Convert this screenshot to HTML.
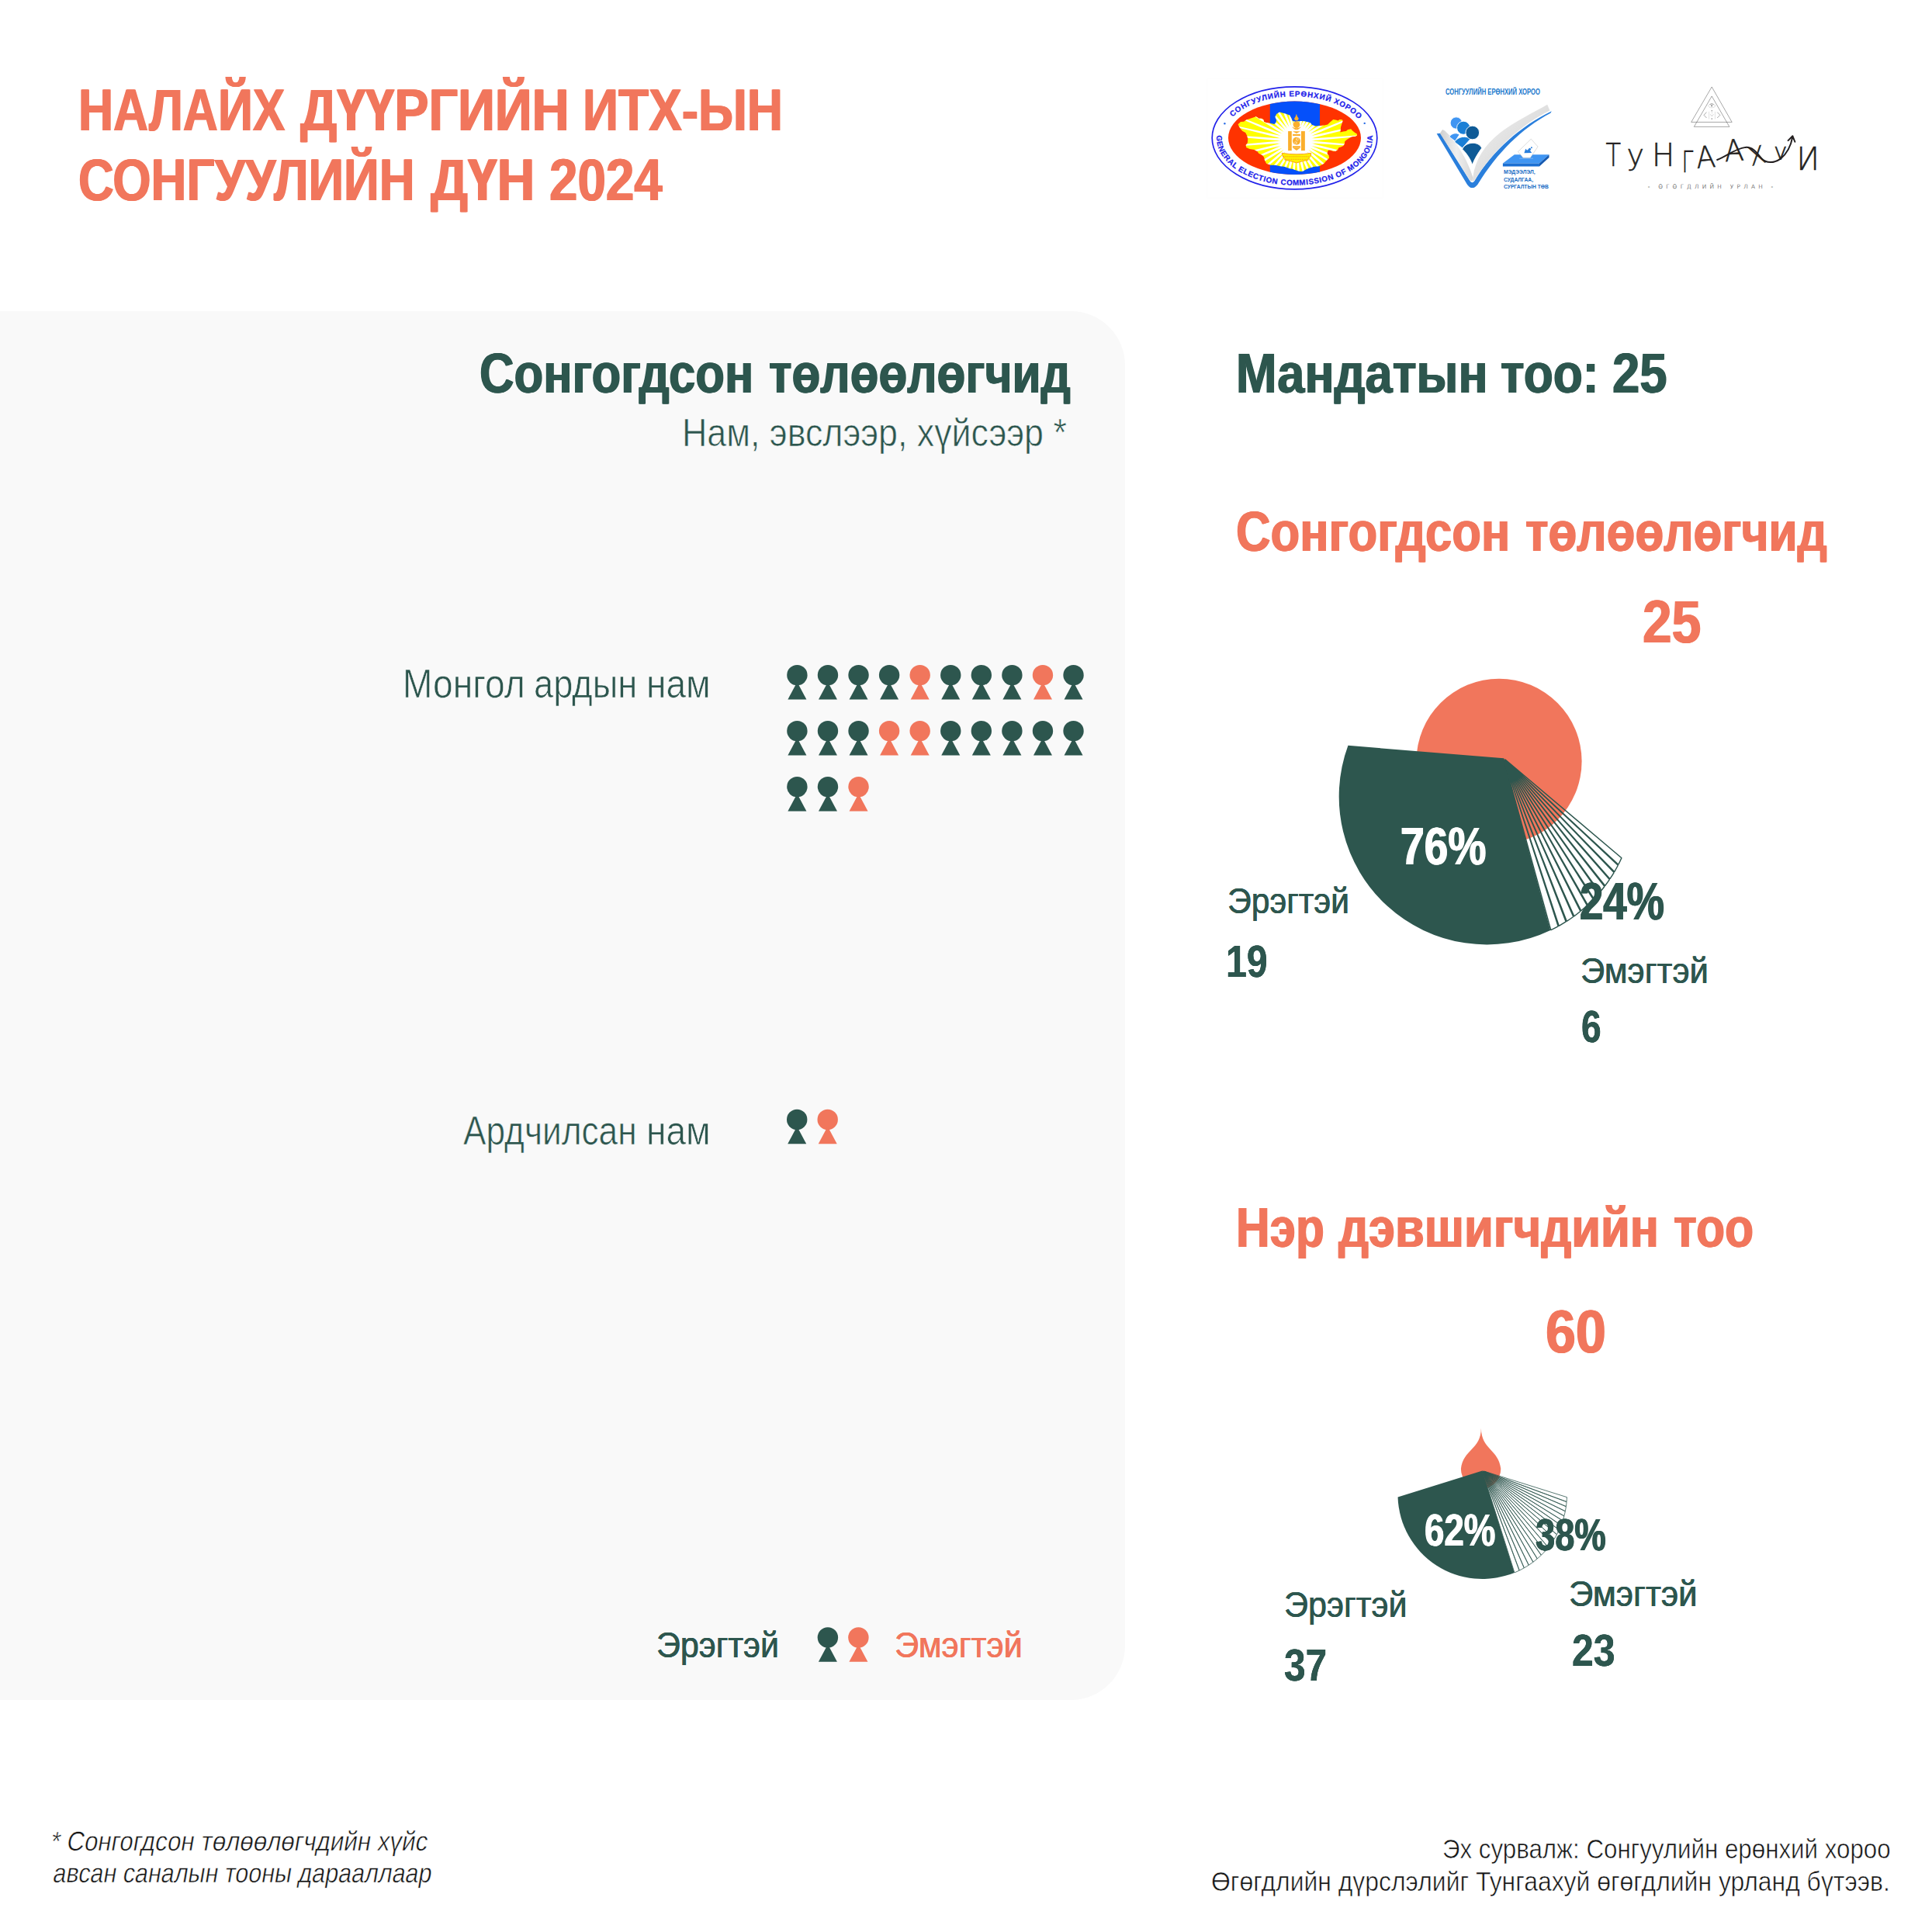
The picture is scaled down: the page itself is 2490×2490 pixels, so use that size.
<!DOCTYPE html>
<html lang="mn">
<head>
<meta charset="utf-8">
<title>Налайх дүүргийн ИТХ-ын сонгуулийн дүн 2024</title>
<style>
html,body{margin:0;padding:0;background:#fff;}
body{width:2490px;height:2490px;position:relative;overflow:hidden;font-family:"Liberation Sans",sans-serif;}
.panel{position:absolute;left:-80px;top:401px;width:1530px;height:1790px;background:#f9f9f9;border-radius:70px;}
.t{position:absolute;white-space:nowrap;line-height:1;transform-origin:0 0;font-weight:400;font-kerning:normal;}
.t.b{font-weight:700;}
.t.i{font-style:italic;}
svg{position:absolute;left:0;top:0;overflow:visible;}
</style>
</head>
<body>
<div class="panel"></div>
<svg class="icons" width="2490" height="2490" viewBox="0 0 2490 2490">
<g fill="#2d564e"><circle cx="1027.40" cy="870.10" r="13.2"/><path d="M1027.40 878.90L1039.40 901.50H1015.40Z"/></g>
<g fill="#2d564e"><circle cx="1066.97" cy="870.10" r="13.2"/><path d="M1066.97 878.90L1078.97 901.50H1054.97Z"/></g>
<g fill="#2d564e"><circle cx="1106.54" cy="870.10" r="13.2"/><path d="M1106.54 878.90L1118.54 901.50H1094.54Z"/></g>
<g fill="#2d564e"><circle cx="1146.11" cy="870.10" r="13.2"/><path d="M1146.11 878.90L1158.11 901.50H1134.11Z"/></g>
<g fill="#f1765c"><circle cx="1185.68" cy="870.10" r="13.2"/><path d="M1185.68 878.90L1197.68 901.50H1173.68Z"/></g>
<g fill="#2d564e"><circle cx="1225.25" cy="870.10" r="13.2"/><path d="M1225.25 878.90L1237.25 901.50H1213.25Z"/></g>
<g fill="#2d564e"><circle cx="1264.82" cy="870.10" r="13.2"/><path d="M1264.82 878.90L1276.82 901.50H1252.82Z"/></g>
<g fill="#2d564e"><circle cx="1304.39" cy="870.10" r="13.2"/><path d="M1304.39 878.90L1316.39 901.50H1292.39Z"/></g>
<g fill="#f1765c"><circle cx="1343.96" cy="870.10" r="13.2"/><path d="M1343.96 878.90L1355.96 901.50H1331.96Z"/></g>
<g fill="#2d564e"><circle cx="1383.53" cy="870.10" r="13.2"/><path d="M1383.53 878.90L1395.53 901.50H1371.53Z"/></g>
<g fill="#2d564e"><circle cx="1027.40" cy="942.10" r="13.2"/><path d="M1027.40 950.90L1039.40 973.50H1015.40Z"/></g>
<g fill="#2d564e"><circle cx="1066.97" cy="942.10" r="13.2"/><path d="M1066.97 950.90L1078.97 973.50H1054.97Z"/></g>
<g fill="#2d564e"><circle cx="1106.54" cy="942.10" r="13.2"/><path d="M1106.54 950.90L1118.54 973.50H1094.54Z"/></g>
<g fill="#f1765c"><circle cx="1146.11" cy="942.10" r="13.2"/><path d="M1146.11 950.90L1158.11 973.50H1134.11Z"/></g>
<g fill="#f1765c"><circle cx="1185.68" cy="942.10" r="13.2"/><path d="M1185.68 950.90L1197.68 973.50H1173.68Z"/></g>
<g fill="#2d564e"><circle cx="1225.25" cy="942.10" r="13.2"/><path d="M1225.25 950.90L1237.25 973.50H1213.25Z"/></g>
<g fill="#2d564e"><circle cx="1264.82" cy="942.10" r="13.2"/><path d="M1264.82 950.90L1276.82 973.50H1252.82Z"/></g>
<g fill="#2d564e"><circle cx="1304.39" cy="942.10" r="13.2"/><path d="M1304.39 950.90L1316.39 973.50H1292.39Z"/></g>
<g fill="#2d564e"><circle cx="1343.96" cy="942.10" r="13.2"/><path d="M1343.96 950.90L1355.96 973.50H1331.96Z"/></g>
<g fill="#2d564e"><circle cx="1383.53" cy="942.10" r="13.2"/><path d="M1383.53 950.90L1395.53 973.50H1371.53Z"/></g>
<g fill="#2d564e"><circle cx="1027.40" cy="1014.10" r="13.2"/><path d="M1027.40 1022.90L1039.40 1045.50H1015.40Z"/></g>
<g fill="#2d564e"><circle cx="1066.97" cy="1014.10" r="13.2"/><path d="M1066.97 1022.90L1078.97 1045.50H1054.97Z"/></g>
<g fill="#f1765c"><circle cx="1106.54" cy="1014.10" r="13.2"/><path d="M1106.54 1022.90L1118.54 1045.50H1094.54Z"/></g>
<g fill="#2d564e"><circle cx="1027.20" cy="1442.90" r="13.2"/><path d="M1027.20 1451.70L1039.20 1474.30H1015.20Z"/></g>
<g fill="#f1765c"><circle cx="1066.70" cy="1442.90" r="13.2"/><path d="M1066.70 1451.70L1078.70 1474.30H1054.70Z"/></g>
<g fill="#2d564e"><circle cx="1066.90" cy="2110.40" r="13.2"/><path d="M1066.90 2119.20L1078.90 2141.80H1054.90Z"/></g>
<g fill="#f1765c"><circle cx="1106.40" cy="2110.40" r="13.2"/><path d="M1106.40 2119.20L1118.40 2141.80H1094.40Z"/></g>
</svg>
<svg class="charts" width="2490" height="2490" viewBox="0 0 2490 2490">
<circle cx="1932" cy="981.3" r="106.6" fill="#f1765c"/>
<path d="M1937.90 977.20L1737.44 960.82A190.70 190.70 0 0 0 1998.23 1198.95Z" fill="#2d564e"/>
<path d="M1937.90 977.20L1938.95 981.06L1940.96 979.78Z" fill="#2d564e"/>
<path d="M1938.56 979.61L1998.78 1198.69A190.70 190.70 0 0 0 2008.14 1193.88L1938.67 979.58M1938.68 979.57L2009.20 1193.30A190.70 190.70 0 0 0 2018.18 1187.97L1938.79 979.54M1938.80 979.53L2019.20 1187.32A190.70 190.70 0 0 0 2027.77 1181.50L1938.91 979.49M1938.92 979.48L2028.74 1180.80A190.70 190.70 0 0 0 2036.87 1174.53L1939.02 979.43M1939.03 979.43L2037.78 1173.78A190.70 190.70 0 0 0 2045.46 1167.09L1939.13 979.38M1939.14 979.37L2046.32 1166.30A190.70 190.70 0 0 0 2053.51 1159.24L1939.24 979.31M1939.25 979.30L2054.32 1158.40A190.70 190.70 0 0 0 2061.01 1151.01L1939.35 979.24M1939.36 979.23L2061.76 1150.14A190.70 190.70 0 0 0 2067.95 1142.45L1939.45 979.16M1939.46 979.16L2068.64 1141.55A190.70 190.70 0 0 0 2074.32 1133.61L1939.54 979.08M1939.55 979.08L2074.94 1132.67A190.70 190.70 0 0 0 2080.10 1124.52L1939.64 979.00M1939.65 978.99L2080.67 1123.57A190.70 190.70 0 0 0 2085.30 1115.24L1939.72 978.91M1939.73 978.90L2085.81 1114.27A190.70 190.70 0 0 0 2089.92 1105.80L1939.81 978.81" fill="none" stroke="#2d564e" stroke-width="1.45" stroke-linejoin="bevel"/>
<path d="M1908.9 1840.7C1909 1868 1931.5 1868 1934.3 1893A25.7 25.7 0 0 1 1882.9 1893C1885.7 1868 1908.8 1868 1908.9 1840.7Z" fill="#f1765c"/>
<path d="M1910.50 1895.40L1801.56 1929.50A109.00 109.00 0 0 0 1951.78 2026.88Z" fill="#2d564e"/>
<path d="M1910.50 1895.40L1911.70 1899.22L1914.32 1896.59Z" fill="#2d564e"/>
<path d="M1911.25 1897.78L1951.91 2026.83A109.00 109.00 0 0 0 1958.04 2024.09L1911.37 1897.75M1911.37 1897.74L1958.30 2023.96A109.00 109.00 0 0 0 1964.21 2020.85L1911.48 1897.70M1911.49 1897.70L1964.46 2020.71A109.00 109.00 0 0 0 1970.14 2017.23L1911.60 1897.65M1911.60 1897.64L1970.38 2017.08A109.00 109.00 0 0 0 1975.80 2013.27L1911.71 1897.59M1911.72 1897.58L1976.03 2013.10A109.00 109.00 0 0 0 1981.18 2008.98L1911.82 1897.52M1911.83 1897.52L1981.39 2008.80A109.00 109.00 0 0 0 1986.24 2004.39L1911.93 1897.45M1911.93 1897.45L1986.44 2004.19A109.00 109.00 0 0 0 1990.98 1999.52L1912.03 1897.38M1912.03 1897.37L1991.16 1999.31A109.00 109.00 0 0 0 1995.37 1994.40L1912.13 1897.30M1912.13 1897.29L1995.54 1994.18A109.00 109.00 0 0 0 1999.41 1989.05L1912.22 1897.21M1912.23 1897.21L1999.57 1988.83A109.00 109.00 0 0 0 2003.09 1983.52L1912.31 1897.12M1912.31 1897.12L2003.23 1983.29A109.00 109.00 0 0 0 2006.39 1977.82L1912.40 1897.03M1912.40 1897.03L2006.52 1977.58A109.00 109.00 0 0 0 2009.33 1971.98L1912.48 1896.93M1912.48 1896.93L2009.44 1971.74A109.00 109.00 0 0 0 2011.88 1966.04L1912.55 1896.83M1912.55 1896.82L2011.98 1965.79A109.00 109.00 0 0 0 2014.06 1960.02L1912.62 1896.72M1912.62 1896.72L2014.14 1959.77A109.00 109.00 0 0 0 2015.86 1953.94L1912.69 1896.61M1912.69 1896.61L2015.92 1953.69A109.00 109.00 0 0 0 2017.29 1947.84L1912.74 1896.50M1912.75 1896.50L2017.34 1947.59A109.00 109.00 0 0 0 2018.36 1941.74L1912.80 1896.39M1912.80 1896.38L2018.39 1941.49A109.00 109.00 0 0 0 2019.07 1935.66L1912.84 1896.27M1912.85 1896.26L2019.09 1935.41A109.00 109.00 0 0 0 2019.44 1929.62L1912.89 1896.15" fill="none" stroke="#2d564e" stroke-width="0.8" stroke-linejoin="bevel"/>
</svg>
<svg class="logo1" width="2490" height="2490" viewBox="0 0 2490 2490" font-family="Liberation Sans, sans-serif">
<defs>
<clipPath id="l1e"><ellipse cx="1668.5" cy="177.8" rx="85.5" ry="47.2"/></clipPath>
<clipPath id="l1m"><polygon points="1595.6,160.3 1599.0,156.9 1603.1,156.7 1606.2,154.6 1611.4,152.8 1614.5,151.7 1618.7,150.2 1621.2,151.7 1622.3,152.8 1626.4,152.8 1628.5,154.3 1629.0,156.9 1632.1,158.2 1636.8,158.7 1642.5,160.0 1644.5,158.0 1645.1,154.8 1643.5,150.7 1645.1,147.1 1649.2,144.5 1652.8,145.5 1658.0,147.1 1662.1,148.6 1664.2,152.3 1665.8,155.9 1669.7,156.9 1676.9,155.9 1682.1,156.4 1688.8,158.2 1690.9,161.1 1695.1,162.6 1700.7,162.3 1706.9,161.6 1711.1,160.5 1714.2,157.4 1718.3,154.1 1722.4,154.8 1724.5,155.4 1726.6,154.1 1729.9,154.3 1730.5,155.9 1729.2,160.0 1728.1,163.6 1727.4,170.4 1731.2,169.6 1734.9,169.1 1736.9,167.3 1741.1,166.2 1743.1,168.6 1746.3,170.9 1748.8,172.4 1749.1,174.5 1746.8,175.8 1742.1,176.3 1739.0,178.1 1735.9,179.9 1733.3,182.3 1732.8,185.4 1731.2,188.0 1728.1,189.5 1725.5,190.3 1724.0,192.9 1721.4,194.7 1718.3,195.0 1715.2,193.7 1712.1,193.4 1711.1,195.2 1710.5,198.3 1712.6,200.4 1713.1,203.5 1710.5,206.1 1708.0,208.7 1706.4,210.7 1702.8,212.8 1700.7,213.9 1692.5,214.9 1684.7,217.5 1679.5,220.6 1676.9,221.1 1671.8,220.1 1666.6,218.0 1661.4,217.0 1656.2,214.9 1649.0,214.1 1643.3,212.8 1637.1,212.8 1636.3,212.3 1632.1,210.7 1630.0,206.6 1629.0,202.5 1626.9,199.9 1622.3,197.8 1620.7,195.2 1616.6,193.1 1610.4,192.1 1606.2,190.0 1605.7,186.9 1607.8,184.3 1608.3,179.2 1607.3,175.0 1605.2,170.9 1601.1,168.8 1599.0,166.2 1596.9,163.1"/></clipPath>
<radialGradient id="l1g"><stop offset="0" stop-color="#fff"/><stop offset="0.8" stop-color="#fff"/><stop offset="1" stop-color="#fff" stop-opacity="0"/></radialGradient>
<path id="l1t" d="M1581.58 159.47A92.5 53.6 0 0 1 1755.42 159.47"/>
<path id="l1b" d="M1571.42 162.01A100.5 61.0 0 1 0 1765.58 162.01"/>
</defs>
<rect x="1555.5" y="101.5" width="227" height="153.5" fill="#fff" stroke="#fdfdfd" stroke-width="1"/>
<ellipse cx="1668.5" cy="177.8" rx="106.3" ry="66" fill="#fff" stroke="#2222ea" stroke-width="1.7"/>
<g clip-path="url(#l1e)"><rect x="1580" y="128" width="180" height="100" fill="#ff3300"/><rect x="1636.8" y="128" width="64.2" height="100" fill="#0550fa"/></g>
<polygon points="1595.6,160.3 1599.0,156.9 1603.1,156.7 1606.2,154.6 1611.4,152.8 1614.5,151.7 1618.7,150.2 1621.2,151.7 1622.3,152.8 1626.4,152.8 1628.5,154.3 1629.0,156.9 1632.1,158.2 1636.8,158.7 1642.5,160.0 1644.5,158.0 1645.1,154.8 1643.5,150.7 1645.1,147.1 1649.2,144.5 1652.8,145.5 1658.0,147.1 1662.1,148.6 1664.2,152.3 1665.8,155.9 1669.7,156.9 1676.9,155.9 1682.1,156.4 1688.8,158.2 1690.9,161.1 1695.1,162.6 1700.7,162.3 1706.9,161.6 1711.1,160.5 1714.2,157.4 1718.3,154.1 1722.4,154.8 1724.5,155.4 1726.6,154.1 1729.9,154.3 1730.5,155.9 1729.2,160.0 1728.1,163.6 1727.4,170.4 1731.2,169.6 1734.9,169.1 1736.9,167.3 1741.1,166.2 1743.1,168.6 1746.3,170.9 1748.8,172.4 1749.1,174.5 1746.8,175.8 1742.1,176.3 1739.0,178.1 1735.9,179.9 1733.3,182.3 1732.8,185.4 1731.2,188.0 1728.1,189.5 1725.5,190.3 1724.0,192.9 1721.4,194.7 1718.3,195.0 1715.2,193.7 1712.1,193.4 1711.1,195.2 1710.5,198.3 1712.6,200.4 1713.1,203.5 1710.5,206.1 1708.0,208.7 1706.4,210.7 1702.8,212.8 1700.7,213.9 1692.5,214.9 1684.7,217.5 1679.5,220.6 1676.9,221.1 1671.8,220.1 1666.6,218.0 1661.4,217.0 1656.2,214.9 1649.0,214.1 1643.3,212.8 1637.1,212.8 1636.3,212.3 1632.1,210.7 1630.0,206.6 1629.0,202.5 1626.9,199.9 1622.3,197.8 1620.7,195.2 1616.6,193.1 1610.4,192.1 1606.2,190.0 1605.7,186.9 1607.8,184.3 1608.3,179.2 1607.3,175.0 1605.2,170.9 1601.1,168.8 1599.0,166.2 1596.9,163.1" fill="#ffff00"/>
<g clip-path="url(#l1m)"><path d="M1682.5 180.8L1788.2 190.3L1788.1 191.2L1682.2 184.1ZM1682.4 182.7L1785.3 208.6L1785.1 209.5L1681.7 185.9ZM1682.1 184.5L1779.7 226.2L1779.3 227.1L1680.9 187.6ZM1681.5 186.3L1771.4 242.8L1770.9 243.6L1679.8 189.1ZM1680.6 188.0L1760.5 257.8L1759.9 258.5L1678.5 190.5ZM1679.5 189.5L1747.5 270.9L1746.8 271.5L1677.0 191.6ZM1678.1 190.8L1732.6 281.9L1731.8 282.4L1675.3 192.5ZM1676.6 191.9L1716.1 290.3L1715.2 290.7L1673.5 193.1ZM1674.9 192.7L1698.5 296.1L1697.6 296.3L1671.7 193.4ZM1673.1 193.2L1680.2 299.1L1679.3 299.2L1669.8 193.5ZM1671.2 193.5L1661.7 299.2L1660.8 299.1L1667.9 193.2ZM1669.3 193.4L1643.4 296.3L1642.5 296.1L1666.1 192.7ZM1667.5 193.1L1625.8 290.7L1624.9 290.3L1664.4 191.9ZM1665.7 192.5L1609.2 282.4L1608.4 281.9L1662.9 190.8ZM1664.0 191.6L1594.2 271.5L1593.5 270.9L1661.5 189.5ZM1662.5 190.5L1581.1 258.5L1580.5 257.8L1660.4 188.0ZM1661.2 189.1L1570.1 243.6L1569.6 242.8L1659.5 186.3ZM1660.1 187.6L1561.7 227.1L1561.3 226.2L1658.9 184.5ZM1659.3 185.9L1555.9 209.5L1555.7 208.6L1658.6 182.7ZM1658.8 184.1L1552.9 191.2L1552.8 190.3L1658.5 180.8ZM1658.5 182.2L1552.8 172.7L1552.9 171.8L1658.8 178.9ZM1658.6 180.3L1555.7 154.4L1555.9 153.5L1659.3 177.1ZM1658.9 178.5L1561.3 136.8L1561.7 135.9L1660.1 175.4ZM1659.5 176.7L1569.6 120.2L1570.1 119.4L1661.2 173.9ZM1660.4 175.0L1580.5 105.2L1581.1 104.5L1662.5 172.5ZM1661.5 173.5L1593.5 92.1L1594.2 91.5L1664.0 171.4ZM1662.9 172.2L1608.4 81.1L1609.2 80.6L1665.7 170.5ZM1664.4 171.1L1624.9 72.7L1625.8 72.3L1667.5 169.9ZM1666.1 170.3L1642.5 66.9L1643.4 66.7L1669.3 169.6ZM1667.9 169.8L1660.8 63.9L1661.7 63.8L1671.2 169.5ZM1669.8 169.5L1679.3 63.8L1680.2 63.9L1673.1 169.8ZM1671.7 169.6L1697.6 66.7L1698.5 66.9L1674.9 170.3ZM1673.5 169.9L1715.2 72.3L1716.1 72.7L1676.6 171.1ZM1675.3 170.5L1731.8 80.6L1732.6 81.1L1678.1 172.2ZM1677.0 171.4L1746.8 91.5L1747.5 92.1L1679.5 173.5ZM1678.5 172.5L1759.9 104.5L1760.5 105.2L1680.6 175.0ZM1679.8 173.9L1770.9 119.4L1771.4 120.2L1681.5 176.7ZM1680.9 175.4L1779.3 135.9L1779.7 136.8L1682.1 178.5ZM1681.7 177.1L1785.1 153.5L1785.3 154.4L1682.4 180.3ZM1682.2 178.9L1788.1 171.8L1788.2 172.7L1682.5 182.2Z" fill="#fff"/><ellipse cx="1670.5" cy="181.5" rx="24.5" ry="18" fill="url(#l1g)"/></g>
<rect x="1660.11" y="169.08" width="4.66" height="25.10" fill="#fbaf2c"/>
<rect x="1676.94" y="169.08" width="4.92" height="25.10" fill="#fbaf2c"/>
<polygon points="1666.07,169.34 1675.90,169.34 1670.98,172.03" fill="#fbaf2c"/>
<rect x="1666.07" y="172.96" width="9.83" height="2.07" fill="#fbaf2c"/>
<circle cx="1670.98" cy="181.76" r="4.9" fill="#fbaf2c"/>
<path d="M1670.98 176.86A2.45 2.45 0 0 1 1670.98 181.76A2.45 2.45 0 0 0 1670.98 186.66" fill="none" stroke="#fff" stroke-width="0.5" opacity="0.85"/>
<circle cx="1670.98" cy="179.36" r="0.8" fill="#fff" opacity="0.9"/><circle cx="1670.98" cy="184.16" r="0.8" fill="#fff" opacity="0.9"/>
<rect x="1666.07" y="188.23" width="9.83" height="2.23" fill="#fbaf2c"/>
<polygon points="1666.07,190.46 1675.90,190.46 1670.98,194.08" fill="#fbaf2c"/>
<circle cx="1670.98" cy="160.54" r="4.4" fill="#fbaf2c"/>
<path d="M1664.93 163.13Q1670.98 171.41 1677.04 163.13Q1670.98 167.27 1664.93 163.13Z" fill="#fbaf2c"/>
<path d="M1670.83 146.67Q1671.76 150.70 1673.83 152.77Q1672.88 155.06 1672.28 155.36L1669.69 155.36Q1667.54 153.57 1668.14 152.77Q1669.95 150.70 1670.83 146.67Z" fill="#fbaf2c"/>
<path d="M1652.19 197.29Q1653.13 203.50 1656.23 204.53L1655.71 206.09Q1664.00 207.64 1670.98 209.97Q1677.97 207.64 1686.25 206.09L1685.73 204.53Q1689.10 203.50 1689.88 197.29Q1670.98 200.39 1652.19 197.29Z" fill="#fff200" stroke="#f79a1c" stroke-width="0.9" stroke-linejoin="round"/>
<path d="M1654.16 201.69H1687.81" stroke="#f79a1c" stroke-width="1.5" stroke-dasharray="1.1 1.5" fill="none"/>
<path d="M1657.27 205.31H1684.70" stroke="#f79a1c" stroke-width="1.3" stroke-dasharray="1.0 1.3" fill="none"/>
<circle cx="1578.4" cy="159.3" r="1.2" fill="#2d6fe6"/><circle cx="1758.7" cy="158.9" r="1.2" fill="#2d6fe6"/>
<text font-size="9.8" font-weight="700" fill="#2222ea" stroke="#2222ea" stroke-width="0.25" text-anchor="middle"><textPath href="#l1t" startOffset="51%" textLength="176" lengthAdjust="spacing">СОНГУУЛИЙН ЕРӨНХИЙ ХОРОО</textPath></text>
<text font-size="9.8" font-weight="700" fill="#2222ea" stroke="#2222ea" stroke-width="0.25" text-anchor="middle"><textPath href="#l1b" startOffset="50%" textLength="264" lengthAdjust="spacing">GENERAL ELECTION COMMISSION OF MONGOLIA</textPath></text>
</svg>
<svg class="logo2" width="2490" height="2490" viewBox="0 0 2490 2490" font-family="Liberation Sans, sans-serif">
<defs><linearGradient id="l2g" x1="0" y1="0" x2="1" y2="0"><stop offset="0" stop-color="#cfcfcf"/><stop offset="0.5" stop-color="#efefef"/><stop offset="1" stop-color="#d6d6d6"/></linearGradient><linearGradient id="l2h" x1="0" y1="0" x2="1" y2="1"><stop offset="0" stop-color="#f2f2f2"/><stop offset="0.6" stop-color="#dcdcdc"/><stop offset="1" stop-color="#c9c9c9"/></linearGradient></defs>
<path d="M 1851.65 172.21 L 1856.30 171.74 L 1894.50 233.23 Q 1897.30 237.42 1900.37 233.23 C 1923.85 194.10 1960.19 162.42 1999.78 143.32 L 1998.39 145.65 C 1961.12 165.22 1929.44 196.89 1904.29 237.89 Q 1897.30 246.27 1891.06 237.89 Z" fill="#2a7fdc"/>
<path d="M 1859.10 166.89 L 1862.17 168.48 C 1870.75 176.40 1888.45 196.89 1898.51 229.50 L 1897.02 233.42 L 1894.50 232.76 L 1855.84 171.74 Z" fill="url(#l2g)"/>
<path d="M 1994.19 134.66 L 1997.45 142.39 C 1960.19 160.56 1923.85 194.10 1900.09 232.76 L 1897.30 233.70 L 1898.23 228.57 C 1901.49 205.28 1913.60 186.65 1933.17 171.27 C 1951.80 156.83 1975.09 145.65 1994.19 134.66 Z" fill="url(#l2h)"/>
<path d="M 1867.95 176.40 C 1870.75 171.74 1877.27 170.34 1880.99 173.60 L 1875.40 181.99 Z" fill="#3f95f2" stroke="#fff" stroke-width="0.9"/>
<circle cx="1876.80" cy="158.51" r="7.64" fill="#3f95f2" stroke="#fff" stroke-width="0.9"/>
<path d="M 1874.66 182.92 C 1879.13 175.47 1890.31 174.53 1894.97 179.19 L 1884.72 190.84 Z" fill="#1a7fd6" stroke="#fff" stroke-width="0.9"/>
<circle cx="1886.12" cy="164.75" r="8.57" fill="#1a7fd6" stroke="#fff" stroke-width="0.9"/>
<path d="M 1884.72 192.24 C 1888.45 182.92 1905.22 181.06 1909.69 190.84 C 1905.22 196.89 1900.56 204.35 1897.58 212.27 C 1894.97 204.35 1890.31 197.83 1884.72 192.24 Z" fill="#0e5a96" stroke="#fff" stroke-width="0.9"/>
<circle cx="1897.76" cy="170.99" r="8.85" fill="#0e5a96" stroke="#fff" stroke-width="0.9"/>
<path d="M 1936.89 210.40 L 1951.80 199.22 L 1996.52 199.22 L 1983.94 210.40 Z" fill="#3f95f2"/>
<path d="M 1936.89 210.40 L 1983.94 210.40 L 1983.94 214.41 L 1936.89 214.41 Z" fill="#1b6fd2"/>
<path d="M 1983.94 210.40 L 1996.52 199.22 L 1996.52 202.95 L 1983.94 214.41 Z" fill="#1559b0"/>
<path d="M 1958.32 204.16 L 1976.03 204.16" stroke="#9cc6f5" stroke-width="0.6"/>
<path d="M 1973.23 179.19 L 1982.08 188.98 L 1972.30 203.42 L 1962.98 203.42 L 1956.46 195.50 Z" fill="#fff" stroke="#9a9a9a" stroke-width="0.35"/>
<path d="M 1964.38 197.36 L 1966.24 191.77 L 1968.11 193.63 L 1970.44 191.77 L 1974.16 196.89 Z" fill="#2a7fdc"/>
<circle cx="1973.88" cy="190.19" r="1.0" fill="#2a7fdc"/>
<circle cx="1971.55" cy="192.24" r="1.5" fill="#2a7fdc"/>
</svg>
<svg class="logo3" width="2490" height="2490" viewBox="0 0 2490 2490" font-family="DejaVu Sans, sans-serif">
<polygon points="2206.19,112.03 2179.69,157.41 2232.19,157.41" fill="none" stroke="#3a3a3a" stroke-width="0.45"/>
<polygon points="2206.19,123.95 2183.33,163.37 2228.88,163.37" fill="none" stroke="#3a3a3a" stroke-width="0.45"/>
<ellipse cx="2206.1" cy="136.4" rx="4.4" ry="2.3" fill="none" stroke="#777" stroke-width="0.35" stroke-dasharray="1.2 0.6"/><path d="M2203.7 134.6Q2206.1 132.8 2208.5 134.6" fill="none" stroke="#444" stroke-width="0.5"/><circle cx="2206.1" cy="136.4" r="0.8" fill="#444"/>
<path d="M2199.5 144.6L2196 148.3L2199.5 152M2213.2 144.6L2216.9 148.3L2213.2 152" fill="none" stroke="#555" stroke-width="0.5"/>
<path d="M2202.6 143.8V153.5M2210.4 143.8V153.5" fill="none" stroke="#bbb" stroke-width="0.45"/>
<path d="M2204.2 147.3L2206.3 149.7L2208.4 147.3" fill="none" stroke="#888" stroke-width="0.4"/>
<rect x="2205.7" y="142.20000000000002" width="1.1" height="1.2" fill="#666"/>
<rect x="2205.7" y="152.5" width="1.1" height="1.2" fill="#666"/>
<circle cx="2206.3" cy="145.6" r="0.4" fill="#777"/>
<defs><clipPath id="l3c"><rect x="2278.57" y="169.50" width="29.81" height="36.44"/></clipPath></defs>
<text transform="translate(2079.32 214.22) scale(0.78 1)" font-size="41" font-weight="200" fill="#231f20" stroke="#231f20" stroke-width="0.55" text-anchor="middle">Т</text>
<text transform="translate(2107.64 213.40)" font-size="38" font-weight="200" fill="#231f20" stroke="#231f20" stroke-width="0.55" text-anchor="middle">у</text>
<text transform="translate(2143.58 214.22) scale(0.95 1)" font-size="41" font-weight="200" fill="#231f20" stroke="#231f20" stroke-width="0.55" text-anchor="middle">Н</text>
<text transform="translate(2174.89 221.68) scale(0.68 1)" font-size="51" font-weight="200" fill="#231f20" stroke="#231f20" stroke-width="0.25" text-anchor="middle">г</text>
<text transform="rotate(-5 2199.40 215.88) translate(2199.40 215.88) scale(0.95 1)" font-size="38.5" font-weight="200" fill="#231f20" stroke="#231f20" stroke-width="0.55" text-anchor="middle">А</text>
<text transform="rotate(-4 2235.84 207.27) translate(2235.84 207.27) scale(0.95 1)" font-size="38.5" font-weight="200" fill="#231f20" stroke="#231f20" stroke-width="0.55" text-anchor="middle">А</text>
<text transform="rotate(-15 2264.49 200.14) translate(2264.49 211.57)" font-size="31.4" font-weight="200" fill="#231f20" stroke="#231f20" stroke-width="0.55" text-anchor="middle">Х</text>
<g clip-path="url(#l3c)"><text transform="translate(2294.80 204.62)" font-size="27.9" font-weight="200" fill="#231f20" stroke="#231f20" stroke-width="0.7" text-anchor="middle">у</text></g>
<text transform="translate(2330.25 219.19) scale(0.95 1)" font-size="41" font-weight="200" fill="#231f20" stroke="#231f20" stroke-width="0.55" text-anchor="middle">И</text>
<path d="M 2213.15 205.94 C 2225.57 201.30 2235.51 191.86 2249.59 189.88 C 2258.70 189.05 2263.66 196.00 2270.29 204.29 C 2276.09 210.58 2286.85 210.58 2294.80 204.62 C 2303.42 197.66 2308.39 186.89 2310.37 176.13 M 2304.58 181.10 L 2310.37 175.30 L 2313.35 182.75" fill="none" stroke="#231f20" stroke-width="2" stroke-linecap="round" stroke-linejoin="round"/>
<text x="2123.71" y="243.21" font-size="7.3" font-weight="200" fill="#4a4a4a" stroke="#4a4a4a" stroke-width="0.12" textLength="161.5" lengthAdjust="spacing">- ӨГӨГДЛИЙН УРЛАН -</text>
</svg>
<span class="t b" style="left:100.81px;top:105.27px;font-size:75.5px;color:#f1765c;transform:scaleX(0.8272);text-shadow:0.91px 0 0 currentColor,-0.91px 0 0 currentColor;">НАЛАЙХ</span>
<span class="t b" style="left:387.10px;top:105.27px;font-size:75.5px;color:#f1765c;transform:scaleX(0.8797);text-shadow:0.91px 0 0 currentColor,-0.91px 0 0 currentColor;">ДҮҮРГИЙН</span>
<span class="t b" style="left:750.93px;top:105.27px;font-size:75.5px;color:#f1765c;transform:scaleX(0.8479);text-shadow:0.91px 0 0 currentColor,-0.91px 0 0 currentColor;">ИТХ-ЫН</span>
<span class="t b" style="left:100.94px;top:194.77px;font-size:75.5px;color:#f1765c;transform:scaleX(0.8405);text-shadow:0.91px 0 0 currentColor,-0.91px 0 0 currentColor;">СОНГУУЛИЙН</span>
<span class="t b" style="left:554.90px;top:194.77px;font-size:75.5px;color:#f1765c;transform:scaleX(0.8938);text-shadow:0.91px 0 0 currentColor,-0.91px 0 0 currentColor;">ДҮН</span>
<span class="t b" style="left:708.45px;top:194.77px;font-size:75.5px;color:#f1765c;transform:scaleX(0.8678);text-shadow:0.91px 0 0 currentColor,-0.91px 0 0 currentColor;">2024</span>
<span class="t b" style="left:618.12px;top:445.44px;font-size:72px;color:#2d564e;transform:scaleX(0.8575);text-shadow:0.86px 0 0 currentColor,-0.86px 0 0 currentColor;">Сонгогдсон</span>
<span class="t b" style="left:990.75px;top:445.44px;font-size:72px;color:#2d564e;transform:scaleX(0.8372);text-shadow:0.86px 0 0 currentColor,-0.86px 0 0 currentColor;">төлөөлөгчид</span>
<span class="t" style="left:879.47px;top:532.99px;font-size:49.5px;color:#2d564e;transform:scaleX(0.9039);-webkit-text-stroke:0.7px #f9f9f9;">Нам, эвслээр, хүйсээр *</span>
<span class="t" style="left:518.63px;top:855.37px;font-size:52px;color:#2d564e;transform:scaleX(0.8889);-webkit-text-stroke:0.7px #f9f9f9;">Монгол</span>
<span class="t" style="left:687.76px;top:855.37px;font-size:52px;color:#2d564e;transform:scaleX(0.8696);-webkit-text-stroke:0.7px #f9f9f9;">ардын</span>
<span class="t" style="left:832.60px;top:855.37px;font-size:52px;color:#2d564e;transform:scaleX(0.8852);-webkit-text-stroke:0.7px #f9f9f9;">нам</span>
<span class="t" style="left:597.00px;top:1430.77px;font-size:52px;color:#2d564e;transform:scaleX(0.8507);-webkit-text-stroke:0.7px #f9f9f9;">Ардчилсан</span>
<span class="t" style="left:832.60px;top:1430.77px;font-size:52px;color:#2d564e;transform:scaleX(0.8852);-webkit-text-stroke:0.7px #f9f9f9;">нам</span>
<span class="t" style="left:846.17px;top:2095.61px;font-size:47px;color:#2d564e;transform:scaleX(0.9143);text-shadow:0.33px 0 0 currentColor,-0.33px 0 0 currentColor;">Эрэгтэй</span>
<span class="t" style="left:1152.55px;top:2095.61px;font-size:47px;color:#f1765c;transform:scaleX(0.9238);text-shadow:0.33px 0 0 currentColor,-0.33px 0 0 currentColor;">Эмэгтэй</span>
<span class="t b" style="left:1592.75px;top:445.14px;font-size:72px;color:#2d564e;transform:scaleX(0.8762);text-shadow:0.86px 0 0 currentColor,-0.86px 0 0 currentColor;">Мандатын</span>
<span class="t b" style="left:1934.02px;top:445.14px;font-size:72px;color:#2d564e;transform:scaleX(0.8658);text-shadow:0.86px 0 0 currentColor,-0.86px 0 0 currentColor;">тоо:</span>
<span class="t b" style="left:2077.89px;top:445.14px;font-size:72px;color:#2d564e;transform:scaleX(0.8813);text-shadow:0.86px 0 0 currentColor,-0.86px 0 0 currentColor;">25</span>
<span class="t b" style="left:1593.32px;top:649.44px;font-size:72px;color:#f1765c;transform:scaleX(0.8573);text-shadow:0.86px 0 0 currentColor,-0.86px 0 0 currentColor;">Сонгогдсон</span>
<span class="t b" style="left:1965.85px;top:649.44px;font-size:72px;color:#f1765c;transform:scaleX(0.8370);text-shadow:0.86px 0 0 currentColor,-0.86px 0 0 currentColor;">төлөөлөгчид</span>
<span class="t b" style="left:2116.74px;top:762.80px;font-size:77px;color:#f1765c;transform:scaleX(0.8789);text-shadow:0.92px 0 0 currentColor,-0.92px 0 0 currentColor;">25</span>
<span class="t b" style="left:1804.52px;top:1056.80px;font-size:68.5px;color:#ffffff;transform:scaleX(0.8056);text-shadow:0.82px 0 0 currentColor,-0.82px 0 0 currentColor;">76%</span>
<span class="t b" style="left:2036.26px;top:1127.50px;font-size:68.5px;color:#2d564e;transform:scaleX(0.7944);text-shadow:0.82px 0 0 currentColor,-0.82px 0 0 currentColor;">24%</span>
<span class="t" style="left:1582.18px;top:1137.01px;font-size:47px;color:#2d564e;transform:scaleX(0.9084);text-shadow:0.33px 0 0 currentColor,-0.33px 0 0 currentColor;">Эрэгтэй</span>
<span class="t b" style="left:1579.59px;top:1209.59px;font-size:58px;color:#2d564e;transform:scaleX(0.8322);text-shadow:0.23px 0 0 currentColor,-0.23px 0 0 currentColor;">19</span>
<span class="t" style="left:2037.04px;top:1226.91px;font-size:47px;color:#2d564e;transform:scaleX(0.9238);text-shadow:0.33px 0 0 currentColor,-0.33px 0 0 currentColor;">Эмэгтэй</span>
<span class="t b" style="left:2037.94px;top:1294.09px;font-size:58px;color:#2d564e;transform:scaleX(0.7970);text-shadow:0.23px 0 0 currentColor,-0.23px 0 0 currentColor;">6</span>
<span class="t b" style="left:1593.05px;top:1546.44px;font-size:72px;color:#f1765c;transform:scaleX(0.8391);text-shadow:0.86px 0 0 currentColor,-0.86px 0 0 currentColor;">Нэр</span>
<span class="t b" style="left:1724.84px;top:1546.44px;font-size:72px;color:#f1765c;transform:scaleX(0.8541);text-shadow:0.86px 0 0 currentColor,-0.86px 0 0 currentColor;">дэвшигчдийн</span>
<span class="t b" style="left:2157.14px;top:1546.44px;font-size:72px;color:#f1765c;transform:scaleX(0.8441);text-shadow:0.86px 0 0 currentColor,-0.86px 0 0 currentColor;">тоо</span>
<span class="t b" style="left:1991.91px;top:1678.30px;font-size:77px;color:#f1765c;transform:scaleX(0.9090);text-shadow:0.92px 0 0 currentColor,-0.92px 0 0 currentColor;">60</span>
<span class="t b" style="left:1835.87px;top:1943.19px;font-size:58px;color:#ffffff;transform:scaleX(0.7877);text-shadow:0.70px 0 0 currentColor,-0.70px 0 0 currentColor;">62%</span>
<span class="t b" style="left:1979.35px;top:1948.89px;font-size:58px;color:#2d564e;transform:scaleX(0.7811);text-shadow:0.70px 0 0 currentColor,-0.70px 0 0 currentColor;">38%</span>
<span class="t" style="left:1655.37px;top:2043.91px;font-size:47px;color:#2d564e;transform:scaleX(0.9173);text-shadow:0.33px 0 0 currentColor,-0.33px 0 0 currentColor;">Эрэгтэй</span>
<span class="t b" style="left:1655.24px;top:2116.89px;font-size:58px;color:#2d564e;transform:scaleX(0.8560);text-shadow:0.23px 0 0 currentColor,-0.23px 0 0 currentColor;">37</span>
<span class="t" style="left:2022.24px;top:2029.91px;font-size:47px;color:#2d564e;transform:scaleX(0.9273);text-shadow:0.33px 0 0 currentColor,-0.33px 0 0 currentColor;">Эмэгтэй</span>
<span class="t b" style="left:2025.87px;top:2097.59px;font-size:58px;color:#2d564e;transform:scaleX(0.8625);text-shadow:0.23px 0 0 currentColor,-0.23px 0 0 currentColor;">23</span>
<span class="t" style="left:64.20px;top:2354.77px;font-size:35px;color:#141414;transform:scaleX(0.8939) skewX(-11deg);-webkit-text-stroke:0.6px #ffffff;transform-origin:0 29.63px;">* Сонгогдсон төлөөлөгчдийн хүйс</span>
<span class="t" style="left:66.97px;top:2396.37px;font-size:35px;color:#141414;transform:scaleX(0.8710) skewX(-11deg);-webkit-text-stroke:0.6px #ffffff;transform-origin:0 29.63px;">авсан саналын тооны дарааллаар</span>
<span class="t" style="left:1858.74px;top:2365.07px;font-size:35px;color:#141414;transform:scaleX(0.8941);-webkit-text-stroke:0.6px #ffffff;">Эх сурвалж: Сонгуулийн ерөнхий хороо</span>
<span class="t" style="left:1561.41px;top:2406.97px;font-size:35px;color:#141414;transform:scaleX(0.9115);-webkit-text-stroke:0.6px #ffffff;">Өгөгдлийн дүрслэлийг Тунгаахуй өгөгдлийн урланд бүтээв.</span>
<span class="t b" style="left:1863.20px;top:114.19px;font-size:10.4px;color:#1878cc;transform:scaleX(0.7351);">СОНГУУЛИЙН ЕРӨНХИЙ ХОРОО</span>
<span class="t b" style="left:1938.18px;top:219.27px;font-size:6.3px;color:#1a6cc4;transform:scaleX(1.0815);">МЭДЭЭЛЭЛ,</span>
<span class="t b" style="left:1938.20px;top:228.77px;font-size:6.3px;color:#1a6cc4;transform:scaleX(1.0690);">СУДАЛГАА,</span>
<span class="t b" style="left:1938.20px;top:238.27px;font-size:6.3px;color:#1a6cc4;transform:scaleX(1.0614);">СУРГАЛТЫН ТӨВ</span>
</body>
</html>
